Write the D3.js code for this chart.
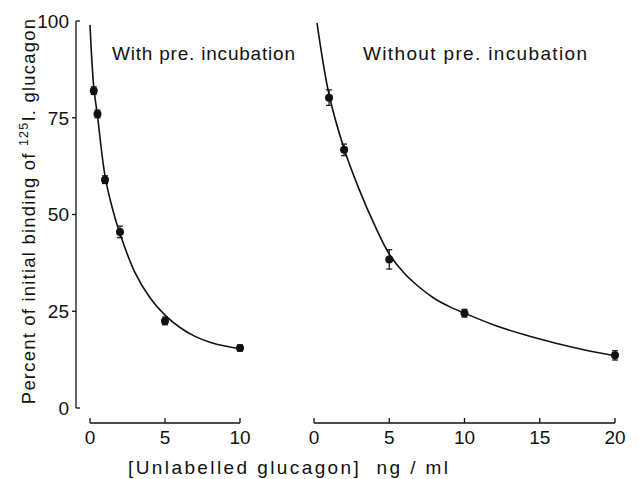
<!DOCTYPE html>
<html><head><meta charset="utf-8">
<script src="https://cdn.jsdelivr.net/npm/d3@7"></script>
<style>body{margin:0;background:#fff}svg{display:block}text{font-family:"Liberation Sans",Arial,sans-serif;fill:#111}</style>
</head><body><div id="chart"></div>
<script>
// Left panel: with pre-incubation
const leftX = [0.25, 0.5, 1, 2, 5, 10];
const leftY = [82, 76, 59, 45.5, 22.5, 15.5];
const leftErr = [1, 1, 1, 1.5, 1, 0.8];
const leftCurveX = [0, 0.25, 0.5, 1, 1.5, 2, 3, 4, 5, 6, 7, 8, 9, 10];
const leftCurveY = [99, 83, 75.5, 60, 51.5, 45, 35, 28.5, 24, 20.8, 18.5, 17, 16, 15.3];
// Right panel: without pre-incubation
const rightX = [1, 2, 5, 10, 20];
const rightY = [80.2, 66.7, 38.4, 24.5, 13.6];
const rightErr = [2, 1.5, 2.5, 1, 1.2];
const rightCurveX = [0.2, 1, 2, 3, 4, 5, 6, 7, 8, 9, 10, 12, 14, 16, 18, 20];
const rightCurveY = [99.5, 81, 67, 56.5, 47.5, 39.8, 34.8, 31.2, 28.3, 26.2, 24.5, 21.4, 18.9, 16.8, 15, 13.5];
const yTicks = [0, 25, 50, 75, 100];
const leftTicks = [0, 5, 10];
const rightTicks = [0, 5, 10, 15, 20];
const leftTitle = "With pre. incubation";
const rightTitle = "Without pre. incubation";
const xTitle = "[Unlabelled glucagon]  ng / ml";

const W = 639, H = 479;
const svg = d3.select("#chart").append("svg").attr("width", W).attr("height", H);

const y = d3.scaleLinear().domain([0, 100]).range([408, 21]);
const xL = d3.scaleLinear().domain([0, 10]).range([90, 240]);
const xR = d3.scaleLinear().domain([0, 20]).range([314, 615]);
const axisY = 423;

// Y axis
const ya = svg.append("g").attr("stroke", "#111").attr("stroke-width", 1.3);
ya.append("line").attr("x1", 76).attr("x2", 76).attr("y1", y(0)).attr("y2", y(100));
ya.selectAll("line.t").data(yTicks).enter().append("line")
  .attr("x1", d => (d === 0 || d === 100) ? 76 : 72)
  .attr("x2", d => (d === 0 || d === 100) ? 80 : 76)
  .attr("y1", d => y(d)).attr("y2", d => y(d));
svg.selectAll("text.yt").data(yTicks).enter().append("text")
  .attr("x", 69).attr("y", d => y(d)).attr("dy", "0.36em")
  .attr("text-anchor", "end").attr("font-size", 19).text(d => d);

// Y title
const yt = svg.append("text").attr("transform", "translate(35," + 211 + ") rotate(-90)")
  .attr("text-anchor", "middle").attr("font-size", 18.5).attr("letter-spacing", 1.2);
yt.append("tspan").text("Percent of initial binding of ");
yt.append("tspan").attr("font-size", 12.5).attr("dy", -7).text("125");
yt.append("tspan").attr("dy", 7).text("I. glucagon");

function xAxis(sc, ticks) {
  const g = svg.append("g").attr("stroke", "#111").attr("stroke-width", 1.3);
  g.append("line").attr("x1", sc.range()[0]).attr("x2", sc.range()[1]).attr("y1", axisY).attr("y2", axisY);
  g.selectAll("line.t").data(ticks).enter().append("line")
    .attr("x1", d => sc(d)).attr("x2", d => sc(d)).attr("y1", axisY).attr("y2", axisY - 5);
  svg.append("g").selectAll("text").data(ticks).enter().append("text")
    .attr("x", d => sc(d)).attr("y", 437).attr("dy", "0.36em")
    .attr("text-anchor", "middle").attr("font-size", 19).text(d => d);
}
xAxis(xL, leftTicks);
xAxis(xR, rightTicks);

function panel(sc, xs, ys, errs, cx, cy) {
  const line = d3.line().x(d => sc(d[0])).y(d => y(d[1])).curve(d3.curveCatmullRom.alpha(0.5));
  svg.append("path").datum(cx.map((v, i) => [v, cy[i]])).attr("d", line)
    .attr("fill", "none").attr("stroke", "#111").attr("stroke-width", 1.6);
  const pts = xs.map((v, i) => ({ x: v, y: ys[i], e: errs[i] }));
  const g = svg.append("g").attr("stroke", "#111").attr("stroke-width", 1.2);
  pts.forEach(p => {
    g.append("line").attr("x1", sc(p.x)).attr("x2", sc(p.x)).attr("y1", y(p.y + p.e)).attr("y2", y(p.y - p.e));
    [p.y + p.e, p.y - p.e].forEach(v => g.append("line").attr("x1", sc(p.x) - 3).attr("x2", sc(p.x) + 3).attr("y1", y(v)).attr("y2", y(v)));
  });
  svg.append("g").selectAll("circle").data(pts).enter().append("circle")
    .attr("cx", d => sc(d.x)).attr("cy", d => y(d.y)).attr("r", 4).attr("fill", "#111");
}
panel(xL, leftX, leftY, leftErr, leftCurveX, leftCurveY);
panel(xR, rightX, rightY, rightErr, rightCurveX, rightCurveY);

svg.append("text").attr("x", 112).attr("y", 60).attr("font-size", 19).attr("textLength", 183).text(leftTitle);
svg.append("text").attr("x", 363).attr("y", 60).attr("font-size", 19).attr("textLength", 224).text(rightTitle);
svg.append("text").attr("x", 128).attr("y", 467).attr("dy", "0.36em")
  .attr("font-size", 19).attr("textLength", 320).attr("lengthAdjust", "spacing")
  .style("white-space", "pre").text(xTitle);
</script></body></html>
